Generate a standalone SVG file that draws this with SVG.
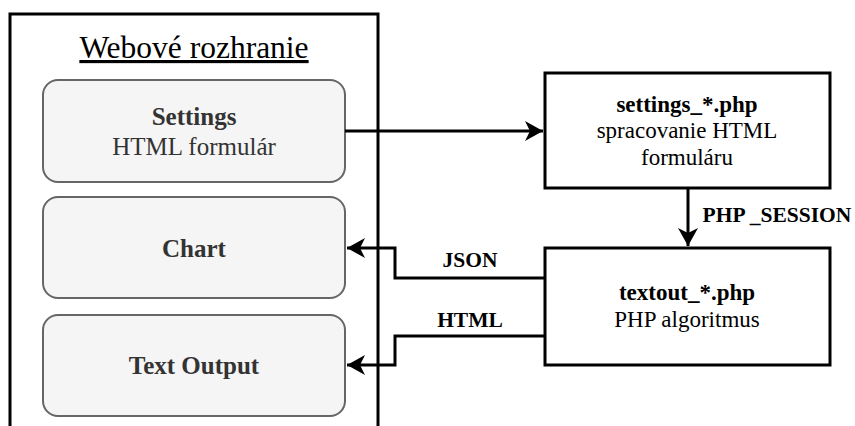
<svg xmlns="http://www.w3.org/2000/svg" width="855" height="426" viewBox="0 0 855 426">
<style>
  .t { font-family: "Liberation Serif", "Times New Roman", serif; text-anchor: middle; }
  .b { font-weight: bold; }
  .ui { fill: #f5f5f5; stroke: #666666; stroke-width: 2; }
  .proc { fill: #ffffff; stroke: #000000; stroke-width: 3; }
  .conn { fill: none; stroke: #000000; stroke-width: 3; }
</style>
<defs>
  <marker id="arr" markerUnits="userSpaceOnUse" markerWidth="24" markerHeight="24" viewBox="-20 -12 24 24" refX="0" refY="0" orient="auto">
    <path d="M-18,-10 L0,0 L-18,10 L-13,0 Z" fill="#000000"/>
  </marker>
</defs>
<rect width="855" height="426" fill="#ffffff"/>
<g id="web">
  <rect x="10" y="14" width="368" height="440" fill="none" stroke="#000000" stroke-width="3"/>
  <text class="t" x="194" y="58" font-size="31.5" text-decoration="underline" fill="#000000">Webové rozhranie</text>
</g>
<g id="settings">
  <rect class="ui" x="43" y="80" width="302" height="102" rx="15"/>
  <text class="t b" x="194" y="125" font-size="25" fill="#333333">Settings</text>
  <text class="t" x="194" y="155" font-size="25" fill="#333333">HTML formulár</text>
</g>
<g id="chart">
  <rect class="ui" x="43" y="197" width="302" height="101" rx="15"/>
  <text class="t b" x="194" y="257" font-size="25" fill="#333333">Chart</text>
</g>
<g id="textoutput">
  <rect class="ui" x="43" y="315" width="302" height="101" rx="15"/>
  <text class="t b" x="194" y="374" font-size="25" fill="#333333">Text Output</text>
</g>
<g id="settingsphp">
  <rect class="proc" x="545" y="73" width="285" height="115"/>
  <text class="t b" x="687" y="112" font-size="23">settings_*.php</text>
  <text class="t" x="687" y="138" font-size="23">spracovanie HTML</text>
  <text class="t" x="687" y="165" font-size="23">formuláru</text>
</g>
<g id="textoutphp">
  <rect class="proc" x="545" y="248" width="285" height="117"/>
  <text class="t b" x="687" y="300" font-size="23">textout_*.php</text>
  <text class="t" x="687" y="327" font-size="23">PHP algoritmus</text>
</g>
<g id="connectors">
  <path class="conn" d="M345,131 L543,131" marker-end="url(#arr)"/>
  <path class="conn" d="M688,188 L688,246" marker-end="url(#arr)"/>
  <path class="conn" d="M545,278 L395,278 L395,248 L347,248" marker-end="url(#arr)"/>
  <path class="conn" d="M545,336 L395,336 L395,365 L347,365" marker-end="url(#arr)"/>
  <text class="t b" x="777" y="222" font-size="21.5">PHP _SESSION</text>
  <text class="t b" x="470" y="267" font-size="21.5">JSON</text>
  <text class="t b" x="470" y="327" font-size="21.5">HTML</text>
</g>
</svg>
